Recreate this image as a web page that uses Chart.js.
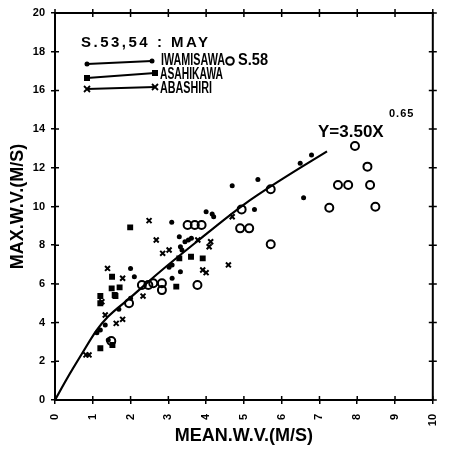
<!DOCTYPE html>
<html><head><meta charset="utf-8">
<script src="https://cdn.jsdelivr.net/npm/chart.js@4/dist/chart.umd.min.js"></script>
<style>html,body{margin:0;padding:0;background:#fff;}</style>
</head><body>
<canvas id="c" width="456" height="458"></canvas>
<script>
// ---- data ----
const xTickValues = [0,1,2,3,4,5,6,7,8,9,10];
const yTickValues = [0,2,4,6,8,10,12,14,16,18,20];

const iwamisawaX = [4.69,5.37,5.28,6.58,6.49,6.79,4.00,4.16,4.20,3.09,3.29,3.44,3.53,3.61,3.32,3.36,3.02,3.10,3.32,2.00,2.10,3.10,2.00,1.69,1.33,1.20,1.11,1.41];
const iwamisawaY = [11.07,11.40,9.85,10.45,12.23,12.66,9.73,9.61,9.47,9.18,8.44,8.18,8.27,8.36,7.92,7.75,6.86,6.98,6.63,6.80,6.37,6.29,5.26,4.69,3.88,3.62,3.48,3.10];

const asahikawaX = [1.99,1.51,1.50,1.71,1.20,1.60,3.21,3.91,1.52,1.20,3.29,3.60,1.20,1.58];
const asahikawaY = [8.92,6.37,5.77,5.82,5.37,5.37,5.86,7.32,2.84,2.67,7.32,7.40,5.00,5.43];

const abashiriX = [2.49,2.68,3.78,4.12,4.08,3.02,2.85,4.59,3.91,4.00,1.39,1.79,2.33,1.24,1.33,1.62,1.79,0.82,0.90,4.69];
const abashiriY = [9.27,8.27,8.27,8.18,7.92,7.75,7.58,6.98,6.72,6.58,6.80,6.29,5.37,5.08,4.39,3.96,4.17,2.33,2.33,9.47];

const s58X = [1.49,1.96,2.30,2.47,2.60,2.83,2.83,3.77,3.51,3.70,3.88,4.94,4.90,5.14,5.71,5.71,7.26,7.49,7.76,7.94,8.27,8.34,8.48];
const s58Y = [3.05,5.00,5.94,5.94,6.03,6.03,5.68,5.94,9.04,9.04,9.04,9.85,8.87,8.87,10.89,8.05,9.94,11.11,11.11,13.13,12.06,11.11,9.99];

// fitted curve Y=3.50X^0.65, as drawn in the figure
const fitX = [0,0.3,0.7,1.1,1.4,2.0,2.7,3.7,5.0,6.0,7.2];
const fitY = [0,1.05,2.35,3.6,4.3,5.3,6.5,8.1,10.1,11.4,12.85];

const pts = (xs, ys) => xs.map((x, i) => ({x, y: ys[i]}));

// ---- decorations: inner ticks, box, legend, equation ----
const deco = {
  id: 'deco',
  afterDraw(chart) {
    const {ctx, chartArea: a, scales} = chart;
    const xs = scales.x, ys = scales.y;
    ctx.save();
    ctx.strokeStyle = '#000';
    ctx.fillStyle = '#000';
    // top and right borders
    ctx.lineWidth = 2;
    ctx.beginPath();
    ctx.moveTo(a.left, a.top); ctx.lineTo(a.right, a.top); ctx.lineTo(a.right, a.bottom);
    ctx.stroke();
    // tick crosses on all four sides
    ctx.lineWidth = 1.5;
    ctx.beginPath();
    xTickValues.forEach(v => {
      const px = xs.getPixelForValue(v);
      ctx.moveTo(px, a.bottom); ctx.lineTo(px, a.bottom - 4);
      ctx.moveTo(px, a.top - 4); ctx.lineTo(px, a.top + 4);
    });
    yTickValues.forEach(v => {
      const py = ys.getPixelForValue(v);
      ctx.moveTo(a.left, py); ctx.lineTo(a.left + 4, py);
      ctx.moveTo(a.right - 4, py); ctx.lineTo(a.right + 4, py);
    });
    ctx.stroke();

    // legend block
    const L = a.left, T = a.top;
    ctx.textBaseline = 'alphabetic';
    ctx.textAlign = 'left';
    ctx.font = 'bold 15px "Liberation Sans", Arial, sans-serif';
    ctx.letterSpacing = '2.5px';
    ctx.fillText('S.53,54 : MAY', L + 26, T + 34);
    ctx.letterSpacing = '0px';

    const lineRow = (x1, y1, x2, y2, style) => {
      ctx.lineWidth = 1.8;
      ctx.beginPath(); ctx.moveTo(x1, y1); ctx.lineTo(x2, y2); ctx.stroke();
      [[x1, y1], [x2, y2]].forEach(([x, y]) => {
        if (style === 'dot') { ctx.beginPath(); ctx.arc(x, y, 2.5, 0, Math.PI * 2); ctx.fill(); }
        else if (style === 'sq') { ctx.fillRect(x - 3, y - 3, 6, 6); }
        else { ctx.lineWidth = 1.8; ctx.beginPath(); ctx.moveTo(x-3,y-3); ctx.lineTo(x+3,y+3); ctx.moveTo(x+3,y-3); ctx.lineTo(x-3,y+3); ctx.stroke(); }
      });
    };
    lineRow(L + 32, T + 51, L + 97, T + 48, 'dot');
    lineRow(L + 32, T + 65, L + 100, T + 60, 'sq');
    lineRow(L + 32, T + 76, L + 100, T + 74, 'x');

    ctx.font = 'bold 16px "Liberation Sans", Arial, sans-serif';
    ctx.fillText('IWAMISAWA', L + 106, T + 52, 64);
    ctx.fillText('ASAHIKAWA', L + 105, T + 66, 63);
    ctx.fillText('ABASHIRI', L + 105, T + 80, 52);
    ctx.lineWidth = 2;
    ctx.beginPath(); ctx.arc(L + 175, T + 48, 3.8, 0, Math.PI * 2); ctx.stroke();
    ctx.fillText('S.58', L + 183, T + 52, 30);

    // equation label
    ctx.font = 'bold 17px "Liberation Sans", Arial, sans-serif';
    ctx.fillText('Y=3.50X', L + 263, T + 124, 70);
    ctx.font = 'bold 11px "Liberation Sans", Arial, sans-serif';
    ctx.letterSpacing = '1px';
    ctx.fillText('0.65', L + 334, T + 104);
    ctx.restore();
  }
};

const tickFont = {family: '"Liberation Sans", Arial, sans-serif', size: 11, weight: 'bold'};
const titleFont = {family: '"Liberation Sans", Arial, sans-serif', size: 18, weight: 'bold'};

new Chart(document.getElementById('c'), {
  data: {
    datasets: [
      {type: 'line', label: 'fit', data: pts(fitX, fitY), borderColor: '#000', borderWidth: 2.2,
       pointRadius: 0, cubicInterpolationMode: 'monotone', fill: false, order: 0},
      {type: 'scatter', label: 'IWAMISAWA', data: pts(iwamisawaX, iwamisawaY), pointStyle: 'circle',
       pointRadius: 2.5, backgroundColor: '#000', borderColor: '#000', borderWidth: 0},
      {type: 'scatter', label: 'ASAHIKAWA', data: pts(asahikawaX, asahikawaY), pointStyle: 'rect',
       pointRadius: 4.2, backgroundColor: '#000', borderColor: '#000', borderWidth: 0},
      {type: 'scatter', label: 'ABASHIRI', data: pts(abashiriX, abashiriY), pointStyle: 'crossRot',
       pointRadius: 3.5, backgroundColor: '#000', borderColor: '#000', borderWidth: 2},
      {type: 'scatter', label: 'S.58', data: pts(s58X, s58Y), pointStyle: 'circle',
       pointRadius: 4, backgroundColor: 'rgba(255,255,255,0)', borderColor: '#000', borderWidth: 2}
    ]
  },
  options: {
    responsive: false,
    animation: false,
    layout: {padding: {top: 13, right: 8, left: 0, bottom: 0}},
    plugins: {legend: {display: false}, tooltip: {enabled: false}},
    scales: {
      x: {
        type: 'linear', min: 0, max: 10,
        afterFit: s => { s.height = 58; },
        afterBuildTicks: s => { s.ticks = xTickValues.map(v => ({value: v})); },
        ticks: {color: '#000', font: tickFont, minRotation: 90, maxRotation: 90, padding: 10},
        grid: {drawOnChartArea: false, color: '#000', lineWidth: 1.5, tickLength: 4},
        border: {color: '#000', width: 2},
        title: {display: true, text: 'MEAN.W.V.(M/S)', color: '#000', font: titleFont, padding: {top: 0, bottom: 11}}
      },
      y: {
        type: 'linear', min: 0, max: 20,
        afterFit: s => { s.width = 55; },
        afterBuildTicks: s => { s.ticks = yTickValues.map(v => ({value: v})); },
        ticks: {color: '#000', font: tickFont, padding: 6},
        grid: {drawOnChartArea: false, color: '#000', lineWidth: 1.5, tickLength: 4},
        border: {color: '#000', width: 2},
        title: {display: true, text: 'MAX.W.V.(M/S)', color: '#000', font: titleFont, padding: {top: 7, bottom: 0}}
      }
    }
  },
  plugins: [deco]
});
</script>
</body></html>
